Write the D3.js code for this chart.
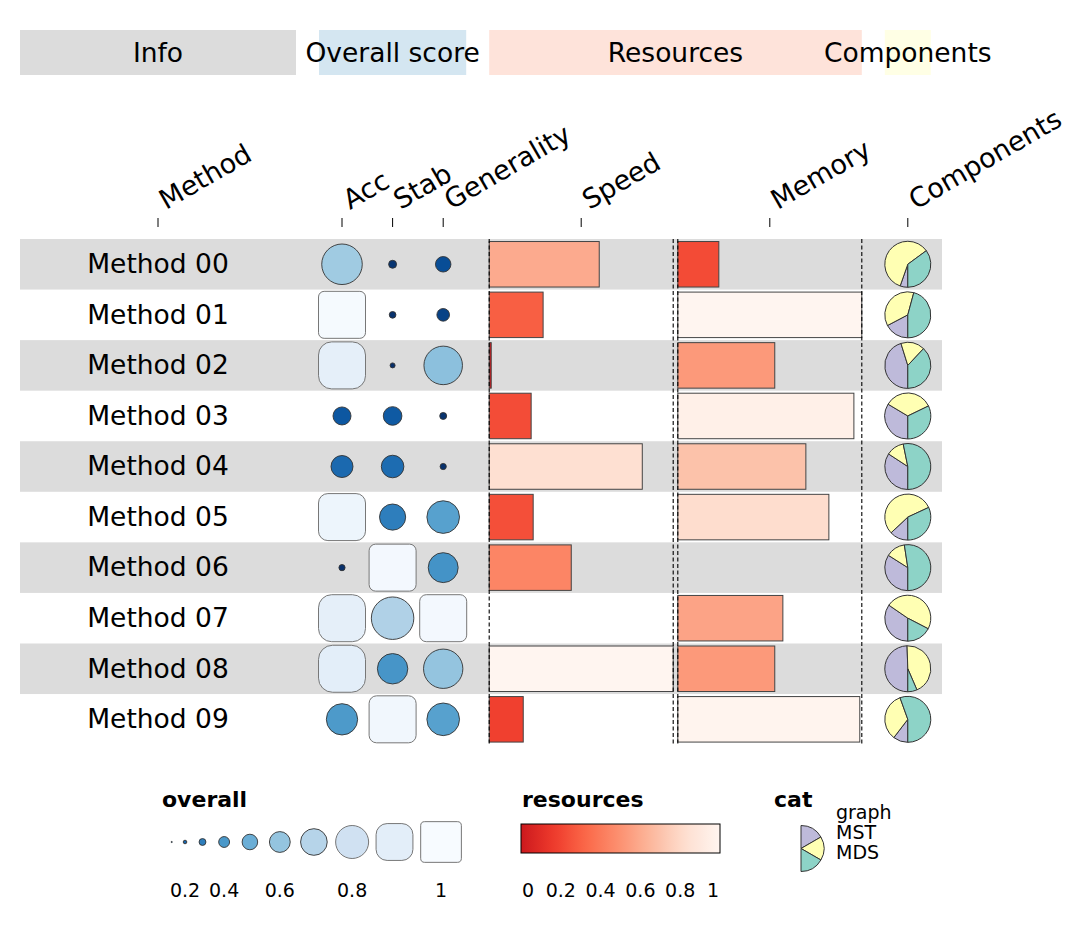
<!DOCTYPE html>
<html><head><meta charset="utf-8">
<script src="https://cdn.jsdelivr.net/npm/d3@7"></script>
<style>body{margin:0;background:#fff}svg{display:block}text{font-family:"DejaVu Sans",sans-serif;fill:#000}</style>
</head><body>
<svg id="chart" width="1086" height="925"></svg>
<script>
// ---------- data ----------
const methods = ["Method 00","Method 01","Method 02","Method 03","Method 04","Method 05","Method 06","Method 07","Method 08","Method 09"];
const acc        = [0.63, 0.99, 0.91, 0.15, 0.22, 0.95, 0.005, 0.91, 0.90, 0.41];
const stab       = [0.018, 0.008, 0.0, 0.16, 0.23, 0.30, 0.98, 0.68, 0.39, 0.97];
const generality = [0.11, 0.07, 0.58, 0.01, 0.005, 0.44, 0.38, 0.98, 0.60, 0.44];
const speed      = [0.598, 0.293, 0.011, 0.228, 0.832, 0.239, 0.446, 0, 1.0, 0.185];
const memory     = [0.223, 1.0, 0.527, 0.957, 0.696, 0.821, 0, 0.571, 0.527, 0.989];
const compGraph  = [0.054, 0.173, 0.452, 0.336, 0.342, 0.130, 0.340, 0.346, 0.495, 0.104];
const compMST    = [0.595, 0.369, 0.168, 0.343, 0.126, 0.551, 0.136, 0.480, 0.440, 0.341];
const compMDS    = [0.351, 0.458, 0.380, 0.322, 0.532, 0.319, 0.524, 0.174, 0.065, 0.555];
const componentNames = ["graph","MST","MDS"];
const columnLabels = ["Method","Acc","Stab","Generality","Speed","Memory","Components"];
const groupLabels = ["Info","Overall score","Resources","Components"];
const overallLegendValues = [0.1,0.2,0.3,0.4,0.5,0.6,0.7,0.8,0.9,1.0];
const overallLegendTicks = [0.2,0.4,0.6,0.8,1.0];
const resourceLegendTicks = [0,0.2,0.4,0.6,0.8,1];

// ---------- palettes (matplotlib-style linear segments) ----------
const bluesStops = ["#f7fbff","#deebf7","#c6dbef","#9ecae1","#6baed6","#4292c6","#2171b5","#08519c","#08306b"];
const redsStops  = ["#fff5f0","#fee0d2","#fcbba1","#fc9272","#fb6a4a","#ef3b2c","#cb181d","#a50f15","#67000d"];
const mkPal = stops => d3.scaleLinear().domain(stops.map((s,i)=>i/(stops.length-1))).range(stops).interpolate(d3.interpolateRgb).clamp(true);
const Blues = mkPal(bluesStops), Reds = mkPal(redsStops);
const blue = v => Blues(1 - v);
const red  = v => Reds(0.75 * (1 - v));

// ---------- layout ----------
const svg = d3.select("#chart");
const colWidths = [276,46,46,46,184,184,46];
const colGroup  = [0,1,1,1,2,2,3];
const cols = [];
{ let x = 20;
  colWidths.forEach((w,i)=>{
    if (i>0) x += (colGroup[i]===colGroup[i-1]) ? 4.6 : 23;
    cols.push({x0:x, x1:x+w, cx:x+w/2, label:columnLabels[i], group:colGroup[i]});
    x += w;
  });
}
const y = d3.scaleBand().domain(methods).range([239, 744.6]);
const rh = y.bandwidth();
const pieColor = d3.scaleOrdinal().domain(componentNames).range(["#bebada","#ffffb3","#8dd3c7"]);
const FS = 26.5;

// header group boxes
const groupFill = ["#dcdcdc","#d4e6f1","#fee3da","#ffffe5"];
groupLabels.forEach((g,gi)=>{
  const cs = cols.filter(c=>c.group===gi);
  const x0 = d3.min(cs,c=>c.x0), x1 = d3.max(cs,c=>c.x1);
  svg.append("rect").attr("x",x0).attr("y",30).attr("width",x1-x0).attr("height",45).attr("fill",groupFill[gi]);
});
groupLabels.forEach((g,gi)=>{
  const cs = cols.filter(c=>c.group===gi);
  const x0 = d3.min(cs,c=>c.x0), x1 = d3.max(cs,c=>c.x1);
  svg.append("text").attr("x",(x0+x1)/2).attr("y",52).attr("dy","0.36em").attr("text-anchor","middle")
    .style("font-size",FS+"px").text(g);
});

// column labels + ticks
cols.forEach(c=>{
  svg.append("line").attr("x1",c.cx).attr("x2",c.cx).attr("y1",218).attr("y2",227).attr("stroke","#000").attr("stroke-width",1);
  svg.append("text").attr("transform",`translate(${c.cx+8},210) rotate(-30)`).style("font-size",(FS+0.5)+"px").text(c.label);
});

// row backgrounds
svg.append("g").selectAll("rect").data(methods.filter((m,i)=>i%2===0)).join("rect")
  .attr("x",20).attr("width",922).attr("y",d=>y(d)).attr("height",rh).attr("fill","#dcdcdc");

// method labels
svg.append("g").selectAll("text").data(methods).join("text")
  .attr("x",cols[0].cx).attr("y",d=>y(d)+rh/2).attr("dy","0.33em").attr("text-anchor","middle")
  .style("font-size",FS+"px").text(d=>d);

// funky circles / rounded rects
const rScale = d3.scalePow().exponent(0.7).domain([0,0.8]).range([2.5,23.5]);
function funky(g, cx, cy, v, rs, halfW0, widthFn) {
  if (v < 0.8) {
    g.append("circle").attr("cx",cx).attr("cy",cy).attr("r",rs(v))
      .attr("fill",blue(v)).attr("stroke","#333").attr("stroke-width",0.9);
  } else {
    const t = (v-0.8)/0.2;
    const half = widthFn ? widthFn(v)/2 : halfW0;
    const corner = half*(1-0.8*t);
    g.append("rect").attr("x",cx-half).attr("y",cy-half).attr("width",2*half).attr("height",2*half)
      .attr("rx",corner).attr("ry",corner).attr("fill",blue(v)).attr("stroke","#777").attr("stroke-width",1);
  }
}
const scoreG = svg.append("g");
[acc,stab,generality].forEach((arr,k)=>{
  const c = cols[1+k];
  arr.forEach((v,i)=>funky(scoreG, c.cx, y(methods[i])+rh/2, v, rScale, 23.5));
});

// bars
const barG = svg.append("g");
[speed,memory].forEach((arr,k)=>{
  const c = cols[4+k];
  const xs = d3.scaleLinear().domain([0,1]).range([c.x0,c.x1]);
  barG.selectAll(null).data(arr).join("rect")
    .attr("x",xs(0)).attr("y",(d,i)=>y(methods[i])+rh*0.05)
    .attr("width",d=>xs(d)-xs(0)).attr("height",rh*0.9)
    .attr("fill",d=>red(d)).attr("stroke","#444").attr("stroke-width",1);
  [c.x0,c.x1].forEach(xx=>{
    barG.append("line").attr("x1",xx).attr("x2",xx).attr("y1",y.range()[0]).attr("y2",y.range()[1])
      .attr("stroke","#000").attr("stroke-width",1.1).attr("stroke-dasharray","4,2.5");
  });
});

// pies
const pie = d3.pie().sort(null).value(d=>d.v).startAngle(Math.PI).endAngle(3*Math.PI);
const arc = d3.arc().innerRadius(0).outerRadius(23);
const pieG = svg.append("g");
methods.forEach((m,i)=>{
  const data = [{k:"graph",v:compGraph[i]},{k:"MST",v:compMST[i]},{k:"MDS",v:compMDS[i]}];
  const g = pieG.append("g").attr("transform",`translate(${cols[6].cx},${y(m)+rh/2})`);
  g.selectAll("path").data(pie(data)).join("path").attr("d",arc)
    .attr("fill",d=>pieColor(d.data.k)).attr("stroke","#333").attr("stroke-width",1);
});

// ---------- legends ----------
const titleFS = 22, labFS = 19;
// overall
svg.append("text").attr("x",162).attr("y",807).style("font-size",titleFS+"px").style("font-weight","bold").text("overall");
const legR = d3.scalePow().exponent(1.6).domain([0,0.8]).range([0,16.5]);
const legW = v => 33 + (v-0.8)/0.2*7.7;
const legX = [];
overallLegendValues.forEach((v,i)=>{
  legX.push(i===0 ? 171.7 : legX[i-1] + 7.1 + 41.5*(overallLegendValues[i-1]+v)/2);
});
const legG = svg.append("g");
overallLegendValues.forEach((v,i)=>funky(legG, legX[i], 842, v, legR, 0, legW));
overallLegendTicks.forEach(t=>{
  const i = overallLegendValues.findIndex(v=>Math.abs(v-t)<1e-9);
  svg.append("text").attr("x",legX[i]).attr("y",897).attr("text-anchor","middle").style("font-size",labFS+"px").text(d3.format("~g")(t));
});

// resources
svg.append("text").attr("x",522).attr("y",807).style("font-size",titleFS+"px").style("font-weight","bold").text("resources");
const grad = svg.append("defs").append("linearGradient").attr("id","resGrad").attr("x1","0%").attr("x2","100%");
d3.range(0,1.0001,0.05).forEach(v=>grad.append("stop").attr("offset",(v*100)+"%").attr("stop-color",red(v)));
const resX = d3.scaleLinear().domain([0,1]).range([521,720]);
svg.append("rect").attr("x",resX(0)).attr("y",824).attr("width",resX(1)-resX(0)).attr("height",29)
  .attr("fill","url(#resGrad)").attr("stroke","#000").attr("stroke-width",1);
resourceLegendTicks.forEach((t,i)=>{
  const anchor = i===0 ? "start" : (i===resourceLegendTicks.length-1 ? "end" : "middle");
  const xx = i===0 ? resX(t)+1 : (i===resourceLegendTicks.length-1 ? resX(t)-1 : resX(t));
  svg.append("text").attr("x",xx).attr("y",897).attr("text-anchor",anchor).style("font-size",labFS+"px").text(d3.format("~g")(t));
});

// cat
svg.append("text").attr("x",774).attr("y",807).style("font-size",titleFS+"px").style("font-weight","bold").text("cat");
const halfPie = d3.pie().sort(null).value(()=>1).startAngle(0).endAngle(Math.PI);
const catG = svg.append("g").attr("transform","translate(801,848.5)");
catG.selectAll("path").data(halfPie(componentNames)).join("path").attr("d",arc)
  .attr("fill",d=>pieColor(d.data)).attr("stroke","#333").attr("stroke-width",1);
componentNames.forEach((n,i)=>{
  svg.append("text").attr("x",836).attr("y",812+20*i).attr("dy","0.36em").style("font-size",labFS+"px").text(n);
});
</script>
</body></html>
